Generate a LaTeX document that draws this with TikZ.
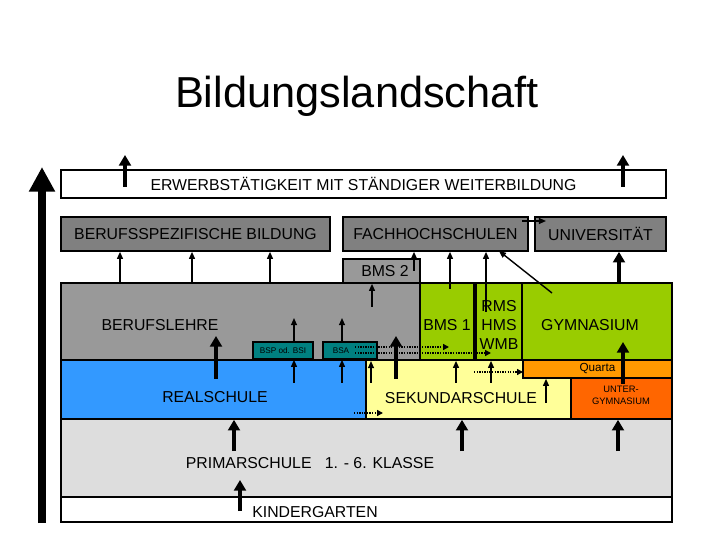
\documentclass[tikz,border=0pt]{standalone}
\usepackage{fontspec}
\setmainfont{Liberation Sans}
\usetikzlibrary{arrows.meta, fit}

\definecolor{darkgr}{HTML}{808080}
\definecolor{midgr}{HTML}{999999}
\definecolor{lightgr}{HTML}{DDDDDD}
\definecolor{tealbox}{HTML}{008080}
\definecolor{gymgreen}{HTML}{99CC00}
\definecolor{realblue}{HTML}{3399FF}
\definecolor{sekyellow}{HTML}{FFFF99}
\definecolor{quorange}{HTML}{FF9900}
\definecolor{ugyred}{HTML}{FF6600}

\begin{document}
\begin{tikzpicture}[x=0.03cm, y=-0.03cm,
    box/.style={draw=black, line width=1.4pt, inner sep=0pt},
    lbl/.style={font=\fontsize{13.5}{15}\selectfont, inner sep=0pt},
    tiny/.style={font=\fontsize{7}{8}\selectfont, inner sep=0pt},
    arr/.style={line width=1.2pt, -{Triangle[width=5pt,length=6pt]}},
    thk/.style={line width=3.2pt, -{Triangle[width=10pt,length=9pt]}},
    dotarr/.style={line width=1.2pt, densely dotted, -{Triangle[width=5pt,length=5pt]}}]
    \useasboundingbox (0,0) rectangle (720,540);

    \node[font=\fontsize{37}{40}\selectfont] (title) at (357,96) {Bildungslandschaft};

    % left time axis
    \coordinate (axisbot) at (42,523);
    \coordinate (axistop) at (42,167);
    \draw[line width=6.8pt, -{Triangle[width=21pt,length=21pt]}] (axisbot) -- (axistop);

    % upper rows
    \node[box, fill=white, fit={(61,170) (666,198)}] (erw) {};
    \node[lbl] at (erw.center) {ERWERBSTÄTIGKEIT MIT STÄNDIGER WEITERBILDUNG};
    \node[box, fill=darkgr, fit={(61,217) (330,251)}] (bsb) {};
    \node[lbl] at (bsb.center) {BERUFSSPEZIFISCHE BILDUNG};
    \node[box, fill=darkgr, fit={(343,217) (528,251)}] (fhs) {};
    \node[lbl] at (fhs.center) {FACHHOCHSCHULEN};
    \node[box, fill=darkgr, fit={(535,217) (666,251)}] (uni) {};
    \node[lbl] at (uni.center) {UNIVERSITÄT};
    \node[box, fill=midgr, fit={(343,259) (420,283)}] (bms2) {};
    \node[lbl] at (385,271) {BMS 2};

    % upper secondary
    \node[box, fill=midgr, fit={(61,283) (420,360)}] (bl) {};
    \node[lbl] at (160,325) {BERUFSLEHRE};
    \node[box, fill=tealbox, fit={(253,342) (313,359)}] (bsp) {};
    \node[tiny] at (bsp.center) {BSP od. BSI};
    \node[box, fill=tealbox, fit={(323,342) (377,359)}] (bsa) {};
    \node[tiny] at (341,351) {BSA};
    \node[box, fill=gymgreen, fit={(420,283) (474,360)}] (bms1) {};
    \node[lbl] at (447,325) {BMS 1};
    \node[box, fill=gymgreen, fit={(476,283) (522,360)}] (rhw) {};
    \node[lbl, align=center, font=\fontsize{13.5}{16.5}\selectfont] at (499,325) {RMS\\HMS\\WMB};
    \node[box, fill=gymgreen, fit={(522,283) (672,360)}] (gym) {};
    \node[lbl] at (590,325) {GYMNASIUM};

    % lower secondary
    \node[box, fill=realblue, fit={(61,360) (366,419)}] (rs) {};
    \node[lbl] at (215,397) {REALSCHULE};
    \node[box, fill=sekyellow, fit={(366,360) (571,419)}] (sek) {};
    \node[lbl] at (461,398) {SEKUNDARSCHULE};
    \node[box, fill=quorange, fit={(523,360) (672,378)}] (qua) {};
    \node[inner sep=0pt, font=\fontsize{10}{12}\selectfont] at (qua.center) {Quarta};
    \node[box, fill=ugyred, fit={(571,378) (672,419)}] (ugy) {};
    \node[inner sep=0pt, align=center, font=\fontsize{8}{10}\selectfont] at (621,395) {UNTER-\\GYMNASIUM};

    % primary
    \node[box, fill=lightgr, fit={(61,419) (672,497)}] (ps) {};
    \node[lbl] at (310,463) {PRIMARSCHULE\ \ \ 1. - 6. KLASSE};
    \node[box, fill=white, fit={(61,497) (672,522)}] (kg) {};
    \node[lbl] at (315,512) {KINDERGARTEN};

    % arrows
    \draw[thk] (125,187) -- (erw.north -| 125,0) -- (125,155);
    \draw[thk] (623,187) -- (erw.north -| 623,0) -- (623,155);
    \foreach \x in {120,192,270}
        \draw[arr] (bl.north -| \x,0) -- (bsb.south -| \x,0);
    \draw[arr] (414,271) -- (fhs.south -| 414,0);
    \draw[arr] (450,289) -- (fhs.south -| 450,0);
    \draw[arr] (486,312) -- (fhs.south -| 486,0);
    \draw[arr] (552,293) -- (499,251);
    \draw[arr] (522,221) -- (546,221);
    \draw[thk] (gym.north -| 619,0) -- (uni.south -| 619,0);
    \draw[arr] (372,307) -- (bms2.south -| 372,0);
    \draw[arr] (bsp.north -| 294,0) -- (294,318);
    \draw[arr] (bsa.north -| 342,0) -- (342,318);
    \draw[arr] (294,383) -- (bsp.south -| 294,0);
    \draw[arr] (342,383) -- (bsa.south -| 342,0);
    \draw[arr] (371,383) -- (371,361);
    \draw[thk] (216,379) -- (216,336);
    \draw[thk] (396,379) -- (396,336);
    \draw[dotarr] (355,347) -- (449,347);
    \draw[dotarr] (355,353) -- (491,353);
    \draw[arr] (456,383) -- (bms1.south -| 456,0);
    \draw[arr] (491,383) -- (rhw.south -| 491,0);
    \draw[dotarr] (474,372) -- (523,372);
    \draw[arr] (546,403) -- (qua.south -| 546,0);
    \draw[thk] (623,384) -- (623,342);
    \draw[dotarr] (354,413) -- (383,413);
    \draw[thk] (234,451) -- (rs.south -| 234,0);
    \draw[thk] (462,451) -- (sek.south -| 462,0);
    \draw[thk] (618,451) -- (ugy.south -| 618,0);
    \draw[thk] (240,511) -- (240,480);
\end{tikzpicture}
\end{document}
